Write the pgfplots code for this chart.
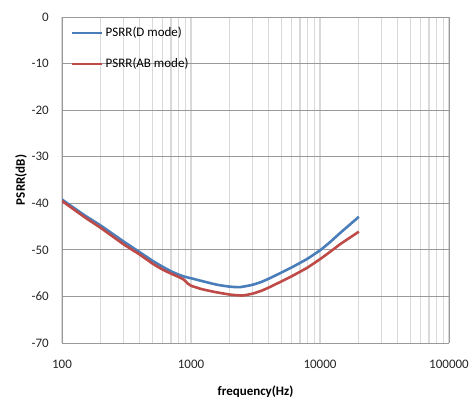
\documentclass[border=0pt]{standalone}
\usepackage{pgfplots}
\pgfplotsset{compat=1.18}
\usepackage{fontspec}
\setmainfont{Carlito}
\definecolor{dblue}{HTML}{4A7EBB}
\definecolor{abred}{HTML}{BE4B48}
\begin{document}
\begin{tikzpicture}[x=1pt,y=1pt]
\useasboundingbox (0,0) rectangle (473,401);
\begin{axis}[
  at={(62pt,58pt)}, anchor=south west,
  width=387pt, height=326pt, scale only axis,
  xmode=log, xmin=100, xmax=100000, ymin=-70, ymax=0,
  xtick={100,1000,10000,100000},
  xticklabels={100,1000,10000,100000},
  ytick={-70,-60,...,0},
  yticklabels={-70,-60,-50,-40,-30,-20,-10,0},
  minor xtick={200,300,400,500,600,700,800,900,2000,3000,4000,5000,6000,7000,8000,9000,20000,30000,40000,50000,60000,70000,80000,90000},
  major tick length=0pt, minor tick length=0pt,
  grid=both,
  x grid style={draw=black!15, line width=1.2pt},
  minor x grid style={draw=black!15, line width=1.2pt},
  y grid style={draw=black!40, line width=0.9pt},
  axis line style={draw=black!40, line width=0.9pt},
  separate axis lines,
  ticklabel style={font=\fontsize{13}{15}\selectfont, text=black!85, inner sep=0pt},
  /pgf/number format/assume math mode=true,
  xticklabel style={anchor=center, yshift=-21pt},
  yticklabel style={anchor=east, xshift=-13pt},
  xlabel={\textbf{frequency(Hz)}},
  ylabel={\textbf{PSRR(dB)}},
  label style={font=\fontsize{13}{15}\selectfont},
  xlabel style={at={(axis description cs:0.5,-0.150)}, anchor=center},
  ylabel style={at={(axis description cs:-0.106,0.5)}, anchor=center},
  legend style={at={(0.023,0.975)}, anchor=north west, draw=none, fill=none,
    font=\fontsize{13}{15}\selectfont, row sep=16pt, inner sep=0pt,
    /tikz/every even column/.append style={column sep=0pt}},
  legend cell align=left,
  legend image code/.code={\draw[#1,line width=2.6pt] (0pt,0pt) -- (30pt,0pt);},
]
\addplot[dblue, line width=2.6pt, smooth, tension=0.35] coordinates {
(100,-39.2) (150,-42.6) (200,-44.8) (300,-48.2) (400,-50.5) (500,-52.3)
(600,-53.6) (700,-54.6) (800,-55.3) (900,-55.8) (1000,-56.1) (1300,-56.9)
(1600,-57.5) (2000,-57.9) (2400,-58.0) (3000,-57.5) (3500,-56.9) (4000,-56.2)
(5000,-54.9) (6000,-53.8) (7000,-52.8) (8000,-51.9) (10000,-50.1)
(12000,-48.3) (14300,-46.4) (17000,-44.6) (20000,-42.9)};
\addlegendentry{PSRR(D mode)}
\addplot[abred, line width=2.6pt, smooth, tension=0.3] coordinates {
(100,-39.5) (150,-43.0) (200,-45.3) (300,-48.8) (400,-51.0) (500,-52.9)
(600,-54.2) (700,-55.1) (800,-55.8) (880,-56.4) (950,-57.3) (1000,-57.7)
(1200,-58.4) (1500,-59.0) (2000,-59.6) (2500,-59.8) (3000,-59.4)
(3500,-58.8) (4000,-58.1) (5000,-56.8) (6000,-55.7) (7000,-54.7) (8000,-53.8)
(10000,-52.0) (12000,-50.4) (14300,-48.8) (17000,-47.4) (20000,-46.1)};
\addlegendentry{PSRR(AB mode)}
\end{axis}
\end{tikzpicture}
\end{document}
